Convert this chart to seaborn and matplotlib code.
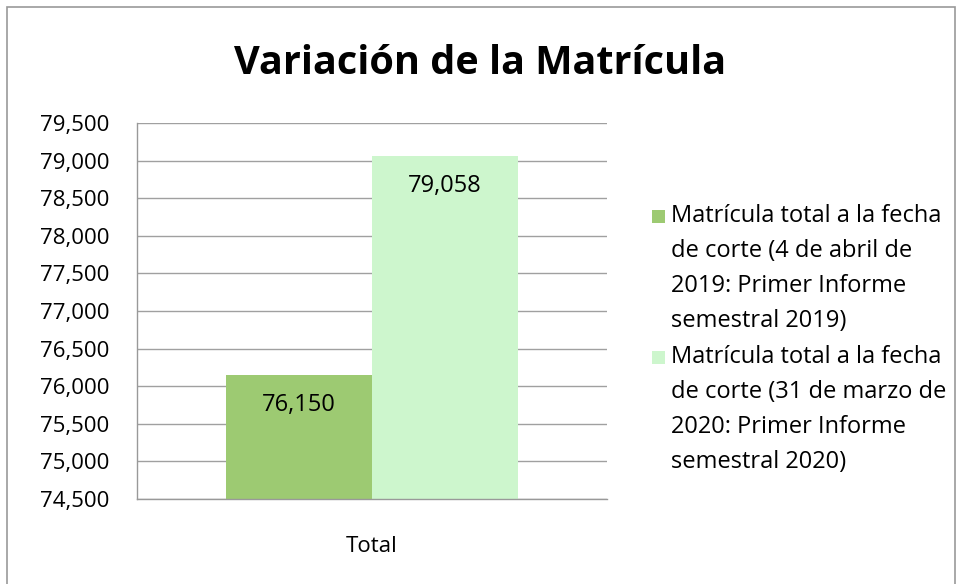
import matplotlib
matplotlib.use("Agg")
import matplotlib.pyplot as plt
import matplotlib.ticker as mticker
from matplotlib.patches import Rectangle
import seaborn as sns
import pandas as pd

categories = ["Total"]
series_names = [
    "Matrícula total a la fecha\nde corte (4 de abril de\n2019: Primer Informe\nsemestral 2019)",
    "Matrícula total a la fecha\nde corte (31 de marzo de\n2020: Primer Informe\nsemestral 2020)",
]
values_2019 = [76150]
values_2020 = [79058]
colors = ["#9dca72", "#cdf6cd"]

df = pd.DataFrame({
    "cat": categories * 2,
    "serie": [series_names[0]] * len(categories) + [series_names[1]] * len(categories),
    "valor": values_2019 + values_2020,
})

sns.set_theme(style="white")
plt.rcParams["font.family"] = ["Open Sans", "DejaVu Sans"]

fig = plt.figure(figsize=(9.6, 5.84), dpi=100)
ax = fig.add_axes([137/960, 1 - 499/584, (607-137)/960, (499-123)/584])

sns.barplot(data=df, x="cat", y="valor", hue="serie", palette=colors,
            width=0.62, gap=0, ax=ax, legend=False, saturation=1,
            linewidth=0, edgecolor="none")

ax.set_ylim(74500, 79500)
ax.set_xlim(-0.5, 0.5)
ax.yaxis.set_major_locator(mticker.MultipleLocator(500))
ax.yaxis.set_major_formatter(mticker.FuncFormatter(lambda v, p: f"{v:,.0f}"))
ax.grid(axis="y", color="#a0a0a0", linewidth=1)
ax.set_axisbelow(True)
for s in ["top", "right"]:
    ax.spines[s].set_visible(False)
for s in ["left", "bottom"]:
    ax.spines[s].set_color("#999999")
    ax.spines[s].set_linewidth(1)
ax.tick_params(axis="y", length=0, labelsize=16, pad=20, colors="black")
ax.tick_params(axis="x", length=0, labelsize=16, pad=27, colors="black")
ax.set_xlabel("")
ax.set_ylabel("")

for cont in ax.containers:
    ax.bar_label(cont, labels=[f"{v:,.0f}" for v in cont.datavalues],
                 label_type="edge", padding=-30, fontsize=17, color="black")

fig.text(0.5, 1 - 64/584, "Variación de la Matrícula", ha="center", va="center",
         fontsize=28.5, fontweight="bold", color="black")

# legend
leg_y = [216, 357]
for i, (name, col) in enumerate(zip(series_names, colors)):
    fig.patches.append(Rectangle((652/960, 1 - (leg_y[i] + 7)/584), 13/960, 13/584,
                                 transform=fig.transFigure, facecolor=col, edgecolor="none"))
    fig.text(671/960, 1 - (leg_y[i] - 12)/584, name, ha="left", va="top",
             fontsize=17, color="black", linespacing=1.62)

# outer border
fig.patches.append(Rectangle((7/960, -0.01), (955-7)/960, 1 - 7/584 + 0.01,
                             transform=fig.transFigure, facecolor="none",
                             edgecolor="#999999", linewidth=1.2))

fig.savefig("out.png", dpi=100)
